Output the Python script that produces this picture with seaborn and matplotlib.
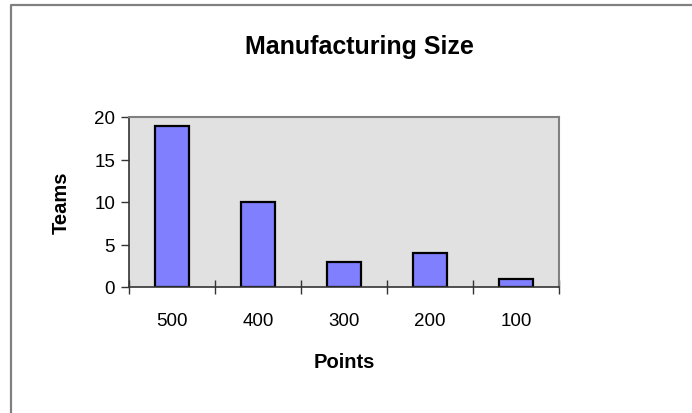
import matplotlib
matplotlib.use("Agg")
import matplotlib.pyplot as plt
from matplotlib.lines import Line2D
import seaborn as sns
import pandas as pd

# Data: number of teams per manufacturing point level
points = ["500", "400", "300", "200", "100"]
teams = [19, 10, 3, 4, 1]
y_ticks = [0, 5, 10, 15, 20]

sns.set_style("white")
plt.rcParams["font.family"] = ["Liberation Sans", "DejaVu Sans"]
plt.rcParams["text.color"] = "black"
plt.rcParams["axes.labelcolor"] = "black"
plt.rcParams["xtick.color"] = "black"
plt.rcParams["ytick.color"] = "black"

W, H, DPI = 692, 414, 100
fig = plt.figure(figsize=(W / DPI, H / DPI), dpi=DPI)
fig.patch.set_facecolor("white")

# plot area in pixels: x 129..559, y 118..288
left, right, top, bottom = 129, 559, 118, 288
ax = fig.add_axes([left / W, 1 - bottom / H, (right - left) / W, (bottom - top) / H])
ax.set_facecolor("#e1e1e1")

df = pd.DataFrame({"Points": points, "Teams": teams})
sns.barplot(data=df, x="Points", y="Teams", order=points, color="#8080ff",
            saturation=1, edgecolor="black", linewidth=1.6, width=0.4, ax=ax)

ax.set_xlim(-0.5, len(points) - 0.5)
ax.set_ylim(0, 20)
ax.set_yticks(y_ticks)
ax.set_yticklabels([str(v) for v in y_ticks])

# category separators as crossing ticks
ax.set_xticks([i - 0.5 for i in range(len(points) + 1)], minor=True)
ax.tick_params(axis="x", which="major", bottom=True, length=0, pad=18,
               labelsize=13.5, labelcolor="black")
ax.tick_params(axis="x", which="minor", bottom=True, direction="inout",
               length=10, width=1.0, color="#333333")
ax.tick_params(axis="y", which="major", left=True, direction="out", length=6,
               width=1.0, color="#333333", pad=4, labelsize=13.5,
               labelcolor="black")

for side in ("left", "bottom"):
    ax.spines[side].set_color("#333333")
    ax.spines[side].set_linewidth(1.2)
for side in ("top", "right"):
    ax.spines[side].set_color("#808080")
    ax.spines[side].set_linewidth(1.5)
    ax.spines[side].set_visible(True)

ax.set_xlabel("Points", fontsize=14.5, fontweight="bold", color="black")
ax.xaxis.label.set_va("baseline")
ax.xaxis.set_label_coords(0.5, (bottom - 368) / (bottom - top))

ax.set_ylabel("Teams", fontsize=14.5, fontweight="bold", color="black")
ax.yaxis.label.set_va("center")
ax.yaxis.set_label_coords((61 - left) / (right - left), 0.5)

fig.text(359 / W, 1 - 54 / H, "Manufacturing Size", ha="center", va="baseline",
         fontsize=18, fontweight="bold", color="black")

# chart frame (left and top edges)
fx, fy = 11 / W, 1 - 6 / H
fig.add_artist(Line2D([fx, fx, 1.0], [0.0, fy, fy], transform=fig.transFigure,
                      color="#808080", linewidth=1.6))

fig.savefig("out.png", dpi=DPI)
